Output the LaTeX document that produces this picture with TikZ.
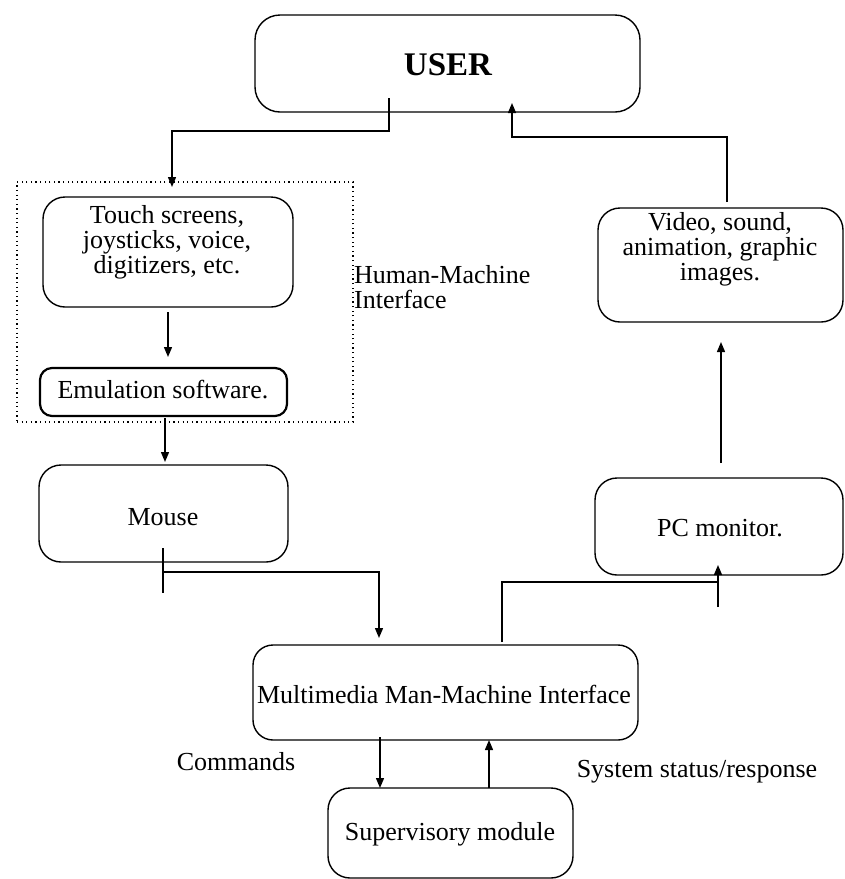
\documentclass[tikz,border=0pt]{standalone}
\usepackage{fontspec}
\setmainfont{Liberation Serif}
\usetikzlibrary{arrows.meta,calc}
\begin{document}
\begin{tikzpicture}[x=1pt,y=-1pt,
  box/.style={draw,line width=1.4pt,rounded corners=22pt,inner sep=0pt},
  txt/.style={align=center,inner sep=0pt,font=\fontsize{26}{25}\selectfont},
  lbl/.style={align=left,inner sep=0pt,font=\fontsize{26}{25}\selectfont},
  ln/.style={line width=1.4pt},
  arr/.style={line width=1.4pt,-{Triangle[length=10pt,width=8pt]}},
]
\fill[white] (0,0) rectangle (845,879);
\useasboundingbox (0,0) rectangle (845,879);

% boxes
\node[box,rounded corners=25pt,minimum width=385pt,minimum height=97pt] (user) at (447.5,63.5) {};
\node[txt,font=\fontsize{33}{33}\selectfont\bfseries] (usertxt) at (448,65) {USER};

\node[draw,line width=1.2pt,dash pattern=on 1.2pt off 3.4pt,inner sep=0pt,minimum width=336pt,minimum height=240pt] (hmi) at (185,302) {};

\node[box,minimum width=250pt,minimum height=110pt] (touch) at (168,252) {};
\node[txt] (touchtxt) at (167,242) {Touch screens,\\joysticks, voice,\\digitizers, etc.};

\node[box,line width=2.2pt,rounded corners=12pt,minimum width=247pt,minimum height=48pt] (emul) at (163.5,392) {};
\node[txt] (emultxt) at (163,390) {Emulation software.};

\node[box,minimum width=249pt,minimum height=97pt] (mouse) at (163.5,513.5) {};
\node[txt] (mousetxt) at (163,517) {Mouse};

\node[box,minimum width=245pt,minimum height=114pt] (video) at (720.5,265) {};
\node[txt] (videotxt) at (720,249) {Video, sound,\\animation, graphic\\images.};

\node[box,minimum width=248pt,minimum height=97pt] (pcmon) at (719,526.5) {};
\node[txt] (pcmontxt) at (720,528) {PC monitor.};

\node[box,rounded corners=20pt,minimum width=385pt,minimum height=95pt] (mmi) at (445.5,692.5) {};
\node[txt] (mmitxt) at (444,694) {Multimedia Man-Machine Interface};

\node[box,minimum width=245pt,minimum height=90pt] (sup) at (450.5,833) {};
\node[txt] (suptxt) at (450,834) {Supervisory module};

% labels
\node[lbl,anchor=west] (hmilbl) at (354,287) {Human-Machine\\Interface};
\node[lbl] (cmd) at (236,762) {Commands};
\node[lbl] (sys) at (697,772) {System status/response};

% connector points
\coordinate (uOut) at (389,98);
\coordinate (tIn) at (172,187);
\coordinate (vOut) at (727,202);
\coordinate (uIn) at (512,103);
\coordinate (tOut) at (168,312);
\coordinate (eIn) at (168,357);
\coordinate (eOut) at (165,418);
\coordinate (mIn) at (165,462);
\coordinate (mOutA) at (163,548);
\coordinate (mOutB) at (163,593);
\coordinate (mmIn) at (379,638);
\coordinate (mmOut) at (502,642);
\coordinate (pTail) at (718,607);
\coordinate (pIn) at (718,565);
\coordinate (pOut) at (721,463);
\coordinate (vIn) at (721,342);
\coordinate (cmdA) at (380,737);
\coordinate (cmdB) at (380,788);
\coordinate (stA) at (489,788);
\coordinate (stB) at (489,740);

% connectors
\draw[arr] (uOut) -- (389,131) -| (tIn);
\draw[arr] (vOut) |- (512,137) -- (uIn);
\draw[arr] (tOut) -- (eIn);
\draw[arr] (eOut) -- (mIn);
\draw[ln] (mOutA) -- (mOutB);
\draw[arr] (163,572) -| (mmIn);
\draw[ln] (mmOut) |- (718,582);
\draw[arr] (pTail) -- (pIn);
\draw[arr] (pOut) -- (vIn);
\draw[arr] (cmdA) -- (cmdB);
\draw[arr] (stA) -- (stB);
\end{tikzpicture}
\end{document}
